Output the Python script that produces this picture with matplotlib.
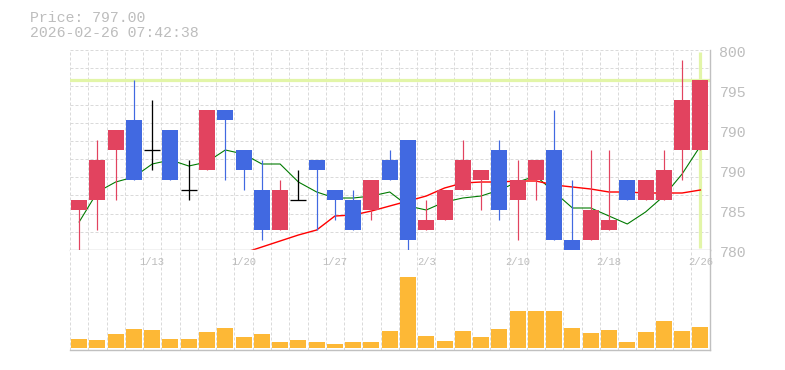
import numpy as np
import matplotlib
matplotlib.use("Agg")
import matplotlib.pyplot as plt
from matplotlib.transforms import offset_copy

# daily candles, oldest first
opens  = [784, 785, 790, 793, 790, 792, 786, 788, 794, 790,
          786, 782, 785, 789, 786, 785, 784, 789, 791, 782,
          783, 786, 787, 790, 785, 787, 790, 781, 781, 782,
          787, 785, 785, 790, 790]
highs  = [785, 791, 792, 797, 795, 792, 789, 794, 794, 790,
          789, 787, 788, 789, 786, 786, 787, 790, 791, 785,
          786, 791, 788, 791, 789, 789, 794, 787, 790, 790,
          787, 787, 790, 799, 797]
lows   = [780, 782, 785, 787, 788, 787, 785, 788, 787, 786,
          781, 782, 785, 782, 783, 782, 783, 787, 780, 782,
          783, 786, 784, 783, 781, 785, 781, 780, 781, 782,
          785, 785, 785, 787, 790]
closes = [785, 789, 792, 787, 790, 787, 786, 794, 793, 788,
          782, 786, 785, 788, 785, 782, 787, 787, 781, 783,
          786, 789, 788, 784, 787, 789, 781, 780, 784, 783,
          785, 787, 788, 795, 797]
volume = [900, 800, 1400, 1900, 1800, 900, 900, 1600, 2000, 1100,
          1400, 600, 800, 600, 400, 600, 600, 1700, 7100, 1200,
          700, 1700, 1100, 1900, 3700, 3700, 3700, 2000, 1500, 1800,
          600, 1600, 2700, 1700, 2100]

# moving averages (5 day over the whole range, 25 day from the 10th candle)
ma5 = [782.8, 785.8, 786.8, 787.3, 788.6, 789.0, 788.4, 788.8, 790.0, 789.6,
       788.6, 788.6, 786.8, 785.8, 785.2, 785.2, 785.4, 785.8, 784.4, 784.0,
       784.8, 785.2, 785.4, 786.0, 786.8, 787.4, 785.8, 784.2, 784.2, 783.4,
       782.6, 783.8, 785.4, 787.6, 790.4]
ma25_start = 9
ma25 = [779.7, 780.3, 780.9, 781.5, 782.0, 783.4, 783.5, 783.9, 784.4, 784.9,
        785.4, 786.2, 786.7, 786.8, 786.8, 786.9, 786.9, 786.5, 786.3, 786.1,
        785.8, 785.8, 785.7, 785.7, 785.7, 786.0]

date_pos = [4, 9, 14, 19, 24, 29, 34]
date_labels = ['1/13', '1/20', '1/27', '2/3', '2/10', '2/18', '2/26']
price_ticks = [800, 796, 792, 788, 784, 780]
price_labels = ['800', '795', '790', '790', '785', '780']
last_price = 797.00
stamp = '2026-02-26 07:42:38'

UP = '#e2435f'
DOWN = '#4169e1'
VOL = '#fdb836'
GRID = '#dadada'
AXIS = '#c0c0c0'
TXT = '#bdbdbd'
MARK = '#e2f5a8'
MONO = 'Liberation Mono'

px = 72 / 100  # one pixel in points at dpi 100

n = len(closes)
x = np.arange(n)
o = np.array(opens, float)
c = np.array(closes, float)
h = np.array(highs, float)
l = np.array(lows, float)

fig = plt.figure(figsize=(7.85, 3.70), dpi=100)
ax = fig.add_axes([70 / 785, 120 / 370, 639.5 / 785, 200 / 370])
axv = fig.add_axes([70 / 785, 20 / 370, 639.5 / 785, 100 / 370], sharex=ax)

for a in (ax, axv):
    a.set_xlim(-0.5, n - 0.5)
    a.set_xticks([])
    a.set_yticks([])
    for s in ('top', 'left'):
        a.spines[s].set_visible(False)
    for s in ('bottom', 'right'):
        a.spines[s].set_color(AXIS)
        a.spines[s].set_linewidth(1.4 * px)
    a.vlines(np.arange(n + 1) - 0.5, 0, 1, transform=a.get_xaxis_transform(),
             color=GRID, lw=px, linestyles=(0, (3, 2)), zorder=0)

ax.set_ylim(780, 800)
ax.hlines(780 + np.arange(1, 12) * 20 / 11, -0.5, n - 0.5,
          color=GRID, lw=px, linestyles=(0, (3, 2)), zorder=0)

# last price marker lines
ax.axhline(last_price, color=MARK, lw=3.2 * px, zorder=1)
ax.vlines(n - 1, 780.2, 799.8, color=MARK, lw=3.2 * px, zorder=1)

# moving averages sit under the candles
ax.plot(x, ma5, color='#007a00', lw=1.1 * px, zorder=2)
ax.plot(x[ma25_start:], ma25, color='#ff0000', lw=1.4 * px, zorder=2, clip_on=False)

up = c > o
down = c < o
flat = c == o
ax.vlines(x[up], l[up], h[up], color=UP, lw=1.2 * px, zorder=3)
ax.vlines(x[down], l[down], h[down], color=DOWN, lw=1.2 * px, zorder=3)
ax.bar(x[up], (c - o)[up], bottom=o[up], width=0.875, color=UP, zorder=4)
ax.bar(x[down], (o - c)[down], bottom=c[down], width=0.875, color=DOWN, zorder=4)
ax.vlines(x[flat], l[flat], h[flat], color='black', lw=1.3 * px, zorder=3)
ax.hlines(c[flat], x[flat] - 0.44, x[flat] + 0.44, color='black', lw=1.3 * px, zorder=4)

# price scale on the right
lab_tr = offset_copy(ax.get_yaxis_transform(), fig=fig, x=10, y=-2.8, units='dots')
for v, s in zip(price_ticks, price_labels):
    ax.text(1, v, s, transform=lab_tr, ha='left', va='center',
            family=MONO, fontsize=10.7, color=TXT, clip_on=False)

# volume
axv.set_ylim(-200, 9800)
axv.bar(x, volume, width=0.875, color=VOL, zorder=2)

date_tr = offset_copy(axv.get_xaxis_transform(), fig=fig, x=0, y=-12, units='dots')
for p, s in zip(date_pos, date_labels):
    axv.text(p, 1, s, transform=date_tr, ha='center', va='center',
             family=MONO, fontsize=7.6, color=TXT, zorder=5)

fig.text(30 / 785, 1 - 18 / 370, f'Price: {last_price:.2f}', family=MONO,
         fontsize=10.7, color=TXT, va='center', ha='left')
fig.text(30 / 785, 1 - 33 / 370, stamp, family=MONO,
         fontsize=10.7, color=TXT, va='center', ha='left')

fig.savefig('out.png', dpi=100)
